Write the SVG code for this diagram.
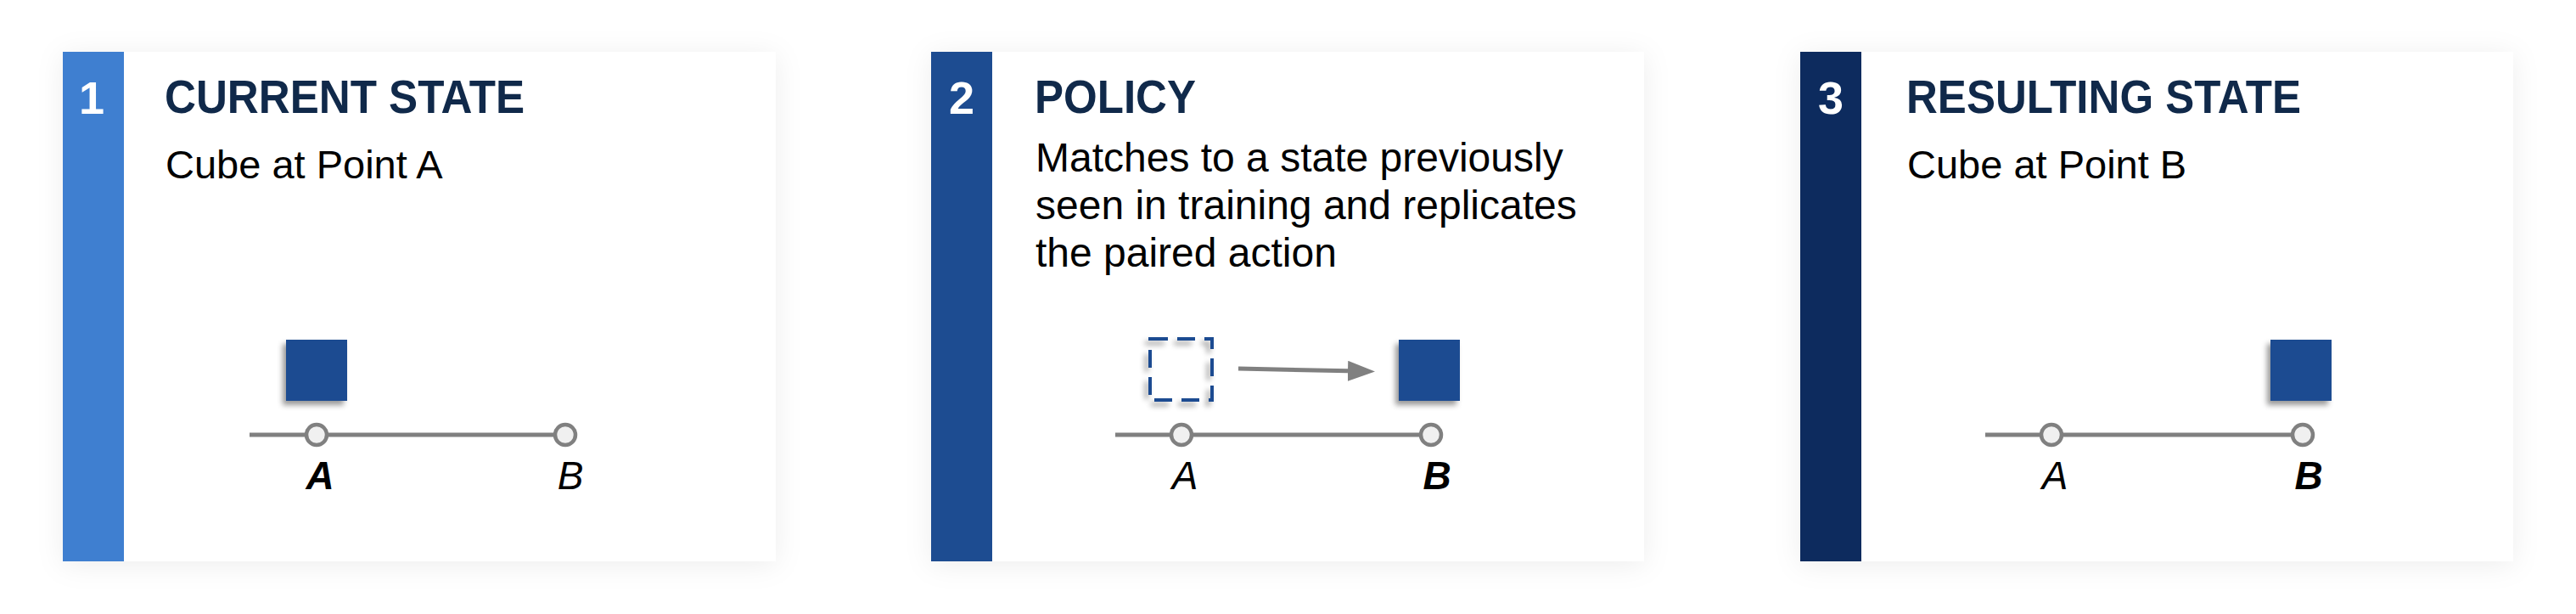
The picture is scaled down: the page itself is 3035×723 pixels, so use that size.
<svg xmlns="http://www.w3.org/2000/svg" width="3035" height="723" viewBox="0 0 3035 723">
<defs>
<filter id="cardShadow" x="-10%" y="-15%" width="120%" height="130%">
<feDropShadow dx="0" dy="4" stdDeviation="16" flood-color="#000" flood-opacity="0.07"/>
</filter>
<filter id="cubeShadow" x="-30%" y="-30%" width="160%" height="160%">
<feDropShadow dx="-4" dy="5" stdDeviation="3" flood-color="#000" flood-opacity="0.4"/>
</filter>
<marker id="arrowHead" markerWidth="32" markerHeight="24" refX="0" refY="12" orient="auto" markerUnits="userSpaceOnUse">
<polygon points="0,0 32,12 0,24" fill="#808080"/>
</marker>
</defs>
<style>
.card{fill:#ffffff;filter:url(#cardShadow);}
.num{font-family:"Liberation Sans",Arial,sans-serif;font-weight:bold;font-size:54px;fill:#ffffff;text-anchor:middle;}
.title{font-family:"Liberation Sans",Arial,sans-serif;font-weight:bold;font-size:55px;fill:#10294a;}
.desc{font-family:"Liberation Sans",Arial,sans-serif;font-size:47px;fill:#000000;}
.desc.m{font-size:48px;}
.lbl{font-family:"Liberation Sans",Arial,sans-serif;font-style:italic;font-size:46px;fill:#000000;text-anchor:middle;}
.lbl.b{font-weight:bold;}
.track{stroke:#808080;stroke-width:5;fill:none;}
.pt{fill:#f0f0f0;stroke:#808080;stroke-width:4.5;}
.cube{fill:#1d4c91;filter:url(#cubeShadow);}
.ghost{fill:none;stroke:#1d4c91;stroke-width:4;stroke-dasharray:21 11;filter:url(#cubeShadow);}
.arrow{stroke:#808080;stroke-width:5;fill:none;}
</style>
<rect width="3035" height="723" fill="#ffffff"/>

<g id="card1">
<rect class="card" x="74" y="61" width="840" height="600"/>
<rect x="74" y="61" width="72" height="600" fill="#3f7fd0"/>
<text class="num" x="108" y="134">1</text>
<text class="title" x="194" y="133" textLength="424" lengthAdjust="spacingAndGlyphs">CURRENT STATE</text>
<text class="desc" x="195" y="210">Cube at Point A</text>
<line class="track" x1="294" y1="512" x2="666" y2="512"/>
<circle class="pt" cx="373" cy="512" r="12"/>
<circle class="pt" cx="666" cy="512" r="12"/>
<text class="lbl b" x="377" y="576">A</text>
<text class="lbl" x="672" y="576">B</text>
<rect class="cube" x="337" y="400" width="72" height="72"/>
</g>

<g id="card2">
<rect class="card" x="1097" y="61" width="840" height="600"/>
<rect x="1097" y="61" width="72" height="600" fill="#1d4c91"/>
<text class="num" x="1133" y="134">2</text>
<text class="title" x="1219" y="133" textLength="190" lengthAdjust="spacingAndGlyphs">POLICY</text>
<text class="desc m" x="1220" y="202">Matches to a state previously</text>
<text class="desc m" x="1220" y="258">seen in training and replicates</text>
<text class="desc m" x="1220" y="314">the paired action</text>
<line class="track" x1="1314" y1="512" x2="1686" y2="512"/>
<circle class="pt" cx="1392" cy="512" r="12"/>
<circle class="pt" cx="1686" cy="512" r="12"/>
<text class="lbl" x="1396" y="576">A</text>
<text class="lbl b" x="1693" y="576">B</text>
<rect class="ghost" x="1355" y="399" width="73" height="72"/>
<rect class="cube" x="1648" y="400" width="72" height="72"/>
</g>

<g id="card3">
<rect class="card" x="2121" y="61" width="840" height="600"/>
<rect x="2121" y="61" width="72" height="600" fill="#0d2b5e"/>
<text class="num" x="2157" y="134">3</text>
<text class="title" x="2246" y="133" textLength="465" lengthAdjust="spacingAndGlyphs">RESULTING STATE</text>
<text class="desc" x="2247" y="210">Cube at Point B</text>
<line class="track" x1="2339" y1="512" x2="2713" y2="512"/>
<circle class="pt" cx="2417" cy="512" r="12"/>
<circle class="pt" cx="2713" cy="512" r="12"/>
<text class="lbl" x="2421" y="576">A</text>
<text class="lbl b" x="2720" y="576">B</text>
<rect class="cube" x="2675" y="400" width="72" height="72"/>
</g>

<g id="connectors">
<line class="arrow" x1="1459" y1="434" x2="1588" y2="436.8" marker-end="url(#arrowHead)"/>
</g>
</svg>
